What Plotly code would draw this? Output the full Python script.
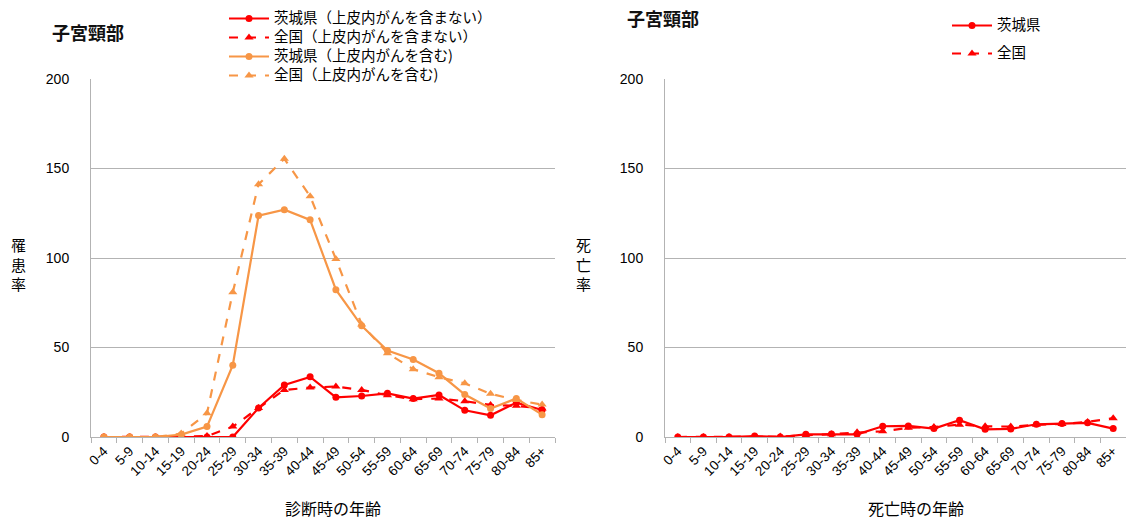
import plotly.graph_objects as go

ages = ["0-4", "5-9", "10-14", "15-19", "20-24", "25-29", "30-34", "35-39", "40-44",
        "45-49", "50-54", "55-59", "60-64", "65-69", "70-74", "75-79", "80-84", "85+"]

# 罹患率 (incidence)
inc_ibaraki_excl = [0, 0, 0, 0, 0, 0, 16.2, 29.1, 33.6, 22.2, 22.9, 24.4, 21.5, 23.5, 14.9, 12.1, 19.2, 15.1]
inc_japan_excl = [0, 0, 0, 0.1, 0.5, 5.8, 16.2, 26.3, 27.6, 28.2, 26.3, 23.3, 21.1, 21.5, 20.0, 17.9, 17.4, 15.9]
inc_ibaraki_incl = [0, 0, 0, 1.3, 5.8, 40.1, 123.7, 127.0, 121.3, 82.3, 62.1, 48.3, 43.3, 35.6, 23.7, 15.9, 21.5, 12.5]
inc_japan_incl = [0, 0, 0, 1.9, 13.2, 80.8, 141.2, 155.4, 134.5, 99.4, 62.9, 46.8, 37.9, 33.4, 30.0, 24.1, 20.7, 18.1]

# 死亡率 (mortality)
mort_ibaraki = [0, 0, 0, 0.5, 0, 1.5, 1.7, 1.5, 6.0, 6.2, 4.7, 9.4, 4.3, 4.5, 7.1, 7.5, 7.9, 4.7]
mort_japan = [0, 0, 0, 0.1, 0.3, 0.9, 1.6, 2.6, 3.2, 5.1, 5.6, 6.9, 6.0, 5.8, 6.8, 7.3, 8.4, 10.5]

names_left = ["茨城県（上皮内がんを含まない）", "全国（上皮内がんを含まない）",
              "茨城県（上皮内がんを含む)", "全国（上皮内がんを含む)"]
names_right = ["茨城県", "全国"]

RED = "#FF0000"
ORANGE = "#F79646"
GRID = "#B3B3B3"
JP = "Noto Sans CJK JP"
NUM = "Liberation Sans, Arial"

W, H = 1126, 520
T, B = 79, 83
ph = H - T - B

fig = go.Figure()


def lab(s):
    return '<span style="font-size:14.5px">' + s + '</span>'


def add(y, name, color, dash, symbol, xa, ya, legend, rank, group):
    fig.add_trace(go.Scatter(
        x=ages, y=y, name=lab(name), mode="lines+markers",
        line=dict(color=color, width=2.2, dash=dash),
        marker=dict(color=color, size=7 if symbol == "circle" else 8, symbol=symbol),
        xaxis=xa, yaxis=ya, legend=legend, legendrank=rank, legendgroup=group,
    ))


add(inc_ibaraki_excl, names_left[0], RED, "solid", "circle", "x", "y", "legend", 1, "a")
add(inc_japan_excl, names_left[1], RED, "dash", "triangle-up", "x", "y", "legend", 2, "b")
add(inc_ibaraki_incl, names_left[2], ORANGE, "solid", "circle", "x", "y", "legend", 3, "c")
add(inc_japan_incl, names_left[3], ORANGE, "dash", "triangle-up", "x", "y", "legend", 4, "d")
add(mort_japan, names_right[1], RED, "dash", "triangle-up", "x2", "y2", "legend2", 2, "f")
add(mort_ibaraki, names_right[0], RED, "solid", "circle", "x2", "y2", "legend2", 1, "e")

xcommon = dict(type="category", categoryorder="array", categoryarray=ages,
               tickangle=-45, ticks="outside", ticklen=5, tickcolor=GRID,
               tickson="boundaries", showline=True, linecolor=GRID, linewidth=1,
               showgrid=False, tickfont=dict(family=NUM, size=13.5, color="#000"),
               range=[-0.5, 17.5], automargin=False)
ycommon = dict(range=[0, 200], tickvals=[0, 50, 100, 150, 200], showgrid=True,
               gridcolor=GRID, gridwidth=1, showline=True, linecolor=GRID, linewidth=1,
               ticks="", ticklabelstandoff=18, zeroline=False, automargin=False,
               tickfont=dict(family=NUM, size=14, color="#000"))


def px(xp):
    return xp / W


def py(yp):
    return (H - B - yp) / ph


fig.update_layout(
    width=W, height=H,
    margin=dict(l=0, r=0, t=T, b=B, autoexpand=False),
    plot_bgcolor="white", paper_bgcolor="white",
    xaxis=dict(xcommon, domain=[px(91), px(555)], anchor="y"),
    yaxis=dict(ycommon, anchor="x"),
    xaxis2=dict(xcommon, domain=[px(665), px(1126)], anchor="y2"),
    yaxis2=dict(ycommon, anchor="x2"),
    showlegend=True,
    legend=dict(x=px(224), y=py(4), xanchor="left", yanchor="top",
                font=dict(family=JP, size=11, color="#000"), bgcolor="rgba(0,0,0,0)",
                tracegroupgap=0, itemwidth=40, traceorder="normal"),
    legend2=dict(x=px(947), y=py(11), xanchor="left", yanchor="top",
                 font=dict(family=JP, size=11, color="#000"), bgcolor="rgba(0,0,0,0)",
                 tracegroupgap=9, itemwidth=40, traceorder="grouped"),
)

anns = [
    dict(text="<b>子宮頸部</b>", x=px(88), y=py(32), font=dict(family=JP, size=18, color="#111")),
    dict(text="<b>子宮頸部</b>", x=px(663), y=py(18), font=dict(family=JP, size=18, color="#111")),
    dict(text="罹<br>患<br>率", x=px(18), y=py(264), font=dict(family=JP, size=15, color="#000")),
    dict(text="死<br>亡<br>率", x=px(583), y=py(264), font=dict(family=JP, size=15, color="#000")),
    dict(text="診断時の年齢", x=px(333), y=py(508), font=dict(family=JP, size=16, color="#000")),
    dict(text="死亡時の年齢", x=px(916), y=py(508), font=dict(family=JP, size=16, color="#000")),
]
for a in anns:
    a.update(xref="paper", yref="paper", showarrow=False, xanchor="center", yanchor="middle")
fig.update_layout(annotations=anns)

fig.write_html("out.html", config={"displayModeBar": False},
               post_script="document.body.style.margin='0';")
